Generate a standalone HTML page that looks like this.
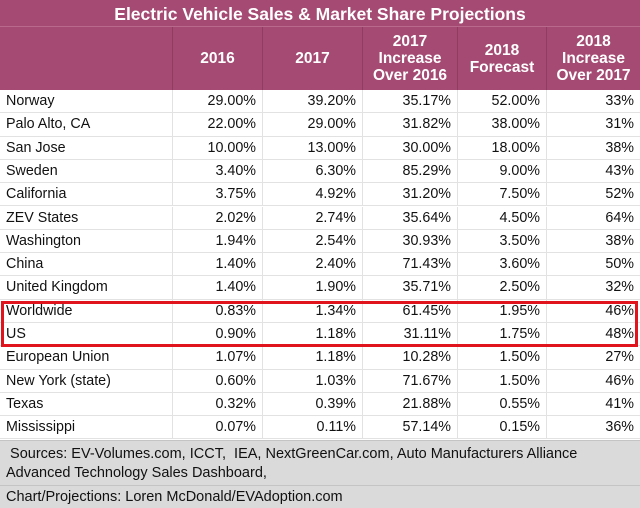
<!DOCTYPE html>
<html><head><meta charset="utf-8"><style>
*{margin:0;padding:0;box-sizing:border-box}
body{width:640px;height:508px;background:#fff;font-family:"Liberation Sans",Arial,sans-serif;position:relative;overflow:hidden}
#title{position:absolute;left:0;top:0;width:640px;height:27px;background:#a54a72;color:#fff;font-weight:bold;font-size:17.5px;text-align:center;line-height:28px;border-bottom:1px solid #b8698c}
#hdr{position:absolute;left:0;top:27px;width:640px;height:63px;background:#a54a72}
.hc{position:absolute;top:0;height:63px;display:flex;align-items:center;justify-content:center;text-align:center;color:#fff;font-weight:bold;font-size:15.5px;line-height:17px;border-left:1px solid #8f3d60}
.row{position:absolute;left:0;width:640px;height:23.3px;border-bottom:1px solid #e2e2e2;font-size:14.3px;color:#111}
.c{position:absolute;top:0;height:23px;line-height:23px;border-left:1px solid #e2e2e2;text-align:right;padding-right:6px}
.c0{left:0;width:172px;text-align:left;padding-left:6px;border-left:none}
#redbox{position:absolute;left:1px;top:301px;width:637px;height:46px;border:3px solid #e0141c}
#src{position:absolute;left:0;top:440px;width:640px;height:45px;background:#dadada;border-top:1px solid #c4c4c4;font-size:14.5px;line-height:19px;padding:4px 6px;color:#111}
#cred{position:absolute;left:0;top:485px;width:640px;height:23px;background:#dadada;border-top:1px solid #c4c4c4;font-size:14.5px;line-height:22px;padding-left:6px;color:#111}
</style></head><body>
<div id="title">Electric Vehicle Sales &amp; Market Share Projections</div>
<div id="hdr">
<div class="hc" style="left:172px;width:90px">2016</div>
<div class="hc" style="left:262px;width:100px">2017</div>
<div class="hc" style="left:362px;width:95px">2017<br>Increase<br>Over 2016</div>
<div class="hc" style="left:457px;width:89px">2018<br>Forecast</div>
<div class="hc" style="left:546px;width:94px">2018<br>Increase<br>Over 2017</div>
</div>
<div id="rows"></div>
<div id="redbox"></div>
<div id="src">&nbsp;Sources: EV-Volumes.com, ICCT,&nbsp; IEA, NextGreenCar.com, Auto Manufacturers Alliance<br>Advanced Technology Sales Dashboard,</div>
<div id="cred">Chart/Projections: Loren McDonald/EVAdoption.com</div>
<script>
const regions=["Norway","Palo Alto, CA","San Jose","Sweden","California","ZEV States","Washington","China","United Kingdom","Worldwide","US","European Union","New York (state)","Texas","Mississippi"];
const share2016=["29.00%","22.00%","10.00%","3.40%","3.75%","2.02%","1.94%","1.40%","1.40%","0.83%","0.90%","1.07%","0.60%","0.32%","0.07%"];
const share2017=["39.20%","29.00%","13.00%","6.30%","4.92%","2.74%","2.54%","2.40%","1.90%","1.34%","1.18%","1.18%","1.03%","0.39%","0.11%"];
const inc2017=["35.17%","31.82%","30.00%","85.29%","31.20%","35.64%","30.93%","71.43%","35.71%","61.45%","31.11%","10.28%","71.67%","21.88%","57.14%"];
const forecast2018=["52.00%","38.00%","18.00%","9.00%","7.50%","4.50%","3.50%","3.60%","2.50%","1.95%","1.75%","1.50%","1.50%","0.55%","0.15%"];
const inc2018=["33%","31%","38%","43%","52%","64%","38%","50%","32%","46%","48%","27%","46%","41%","36%"];
const lefts=[0,172,262,362,457,546], widths=[172,90,100,95,89,94];
const cont=document.getElementById('rows');
regions.forEach((r,i)=>{
  const row=document.createElement('div');row.className='row';row.style.top=(90+i*23.3)+'px';
  
  
  [r,share2016[i],share2017[i],inc2017[i],forecast2018[i],inc2018[i]].forEach((v,j)=>{
    const c=document.createElement('div');c.className='c'+(j===0?' c0':'');
    c.style.left=lefts[j]+'px';c.style.width=widths[j]+'px';c.textContent=v;
    
    
    row.appendChild(c);
  });
  cont.appendChild(row);
});
</script>
</body></html>
